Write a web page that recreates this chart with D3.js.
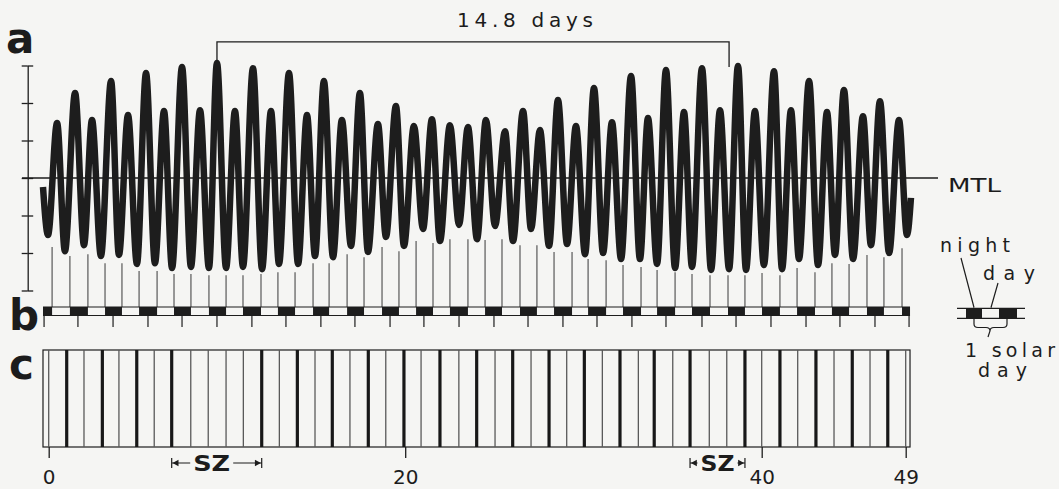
<!DOCTYPE html>
<html><head><meta charset="utf-8">
<script src="https://cdn.jsdelivr.net/npm/d3@7"></script>
<style>
html,body{margin:0;padding:0;background:#f5f5f3;}
svg{display:block;}
text{font-family:"DejaVu Sans","Liberation Sans",Arial,sans-serif;fill:#1c1c1c;}
</style></head><body>
<svg id="chart" width="1059" height="489"></svg>
<script>
// ---------- DATA (x in tidal-cycle units of the bottom axis, y in tide-scale units, MTL = 0) ----------
const xTickValues = [0, 20, 40, 49];
const yTickValues = [-3, -2, -1, 0, 1, 2, 3];

// high waters
const highX = [0.47,1.48,2.43,3.50,4.45,5.46,6.47,7.48,8.49,9.44,10.45,11.46,12.47,13.48,14.49,15.44,16.45,17.46,18.47,19.48,20.49,21.50,22.51,23.52,24.53,25.60,26.61,27.56,28.57,29.58,30.59,31.60,32.67,33.62,34.63,35.64,36.65,37.66,38.67,39.62,40.77,41.83,42.96,44.08,45.14,46.33,47.39,48.58];
const highY = [1.47,2.27,1.55,2.59,1.68,2.80,1.79,2.96,1.81,3.07,1.79,2.93,1.79,2.80,1.68,2.59,1.55,2.27,1.44,1.92,1.39,1.57,1.41,1.36,1.55,1.25,1.79,1.28,2.08,1.39,2.40,1.49,2.72,1.60,2.88,1.76,2.93,1.81,2.99,1.79,2.85,1.81,2.59,1.76,2.35,1.65,2.05,1.55];
// low waters
const lowX = [-0.04,0.91,1.98,2.93,3.94,4.95,5.96,6.92,7.98,8.99,9.95,10.90,11.97,12.92,13.99,14.94,15.95,16.96,17.91,18.92,19.93,21.00,21.95,23.02,24.03,25.04,26.05,27.06,28.07,29.08,30.09,31.10,32.11,33.17,34.13,35.14,36.09,37.16,38.17,39.12,40.14,41.27,42.33,43.52,44.58,45.71,46.83,47.96,49.08];
const lowY = [-1.52,-1.95,-1.79,-2.08,-2.05,-2.29,-2.27,-2.40,-2.37,-2.40,-2.40,-2.37,-2.43,-2.29,-2.29,-2.08,-2.11,-1.81,-1.97,-1.57,-1.81,-1.36,-1.68,-1.25,-1.63,-1.28,-1.68,-1.36,-1.81,-1.76,-2.03,-2.00,-2.16,-2.16,-2.29,-2.40,-2.37,-2.45,-2.43,-2.45,-2.32,-2.43,-2.16,-2.32,-2.05,-2.16,-1.79,-2.00,-1.52];
// record start / end
const recordStart = [-0.32, -0.24];
const recordEnd = [49.33, -0.53];

// day/night transition markers (thin lines from below the curve down to strip b)
const markerX = [0.19,1.19,2.20,3.16,4.11,5.07,6.08,7.03,7.98,8.99,9.95,10.90,11.91,12.86,13.82,14.83,15.73,16.74,17.69,18.70,19.65,20.61,21.56,22.51,23.52,24.48,25.43,26.44,27.39,28.35,29.36,30.26,31.27,32.22,33.23,34.13,35.14,36.09,37.10,38.11,39.06,40.02,41.14,42.21,43.33,44.39,45.46,46.58,47.64,48.77];
const markerTop = [-1.84,-2.08,-2.03,-2.27,-2.27,-2.48,-2.48,-2.56,-2.56,-2.59,-2.59,-2.59,-2.56,-2.51,-2.51,-2.27,-2.27,-2.03,-2.11,-1.84,-1.95,-1.68,-1.73,-1.63,-1.63,-1.65,-1.63,-1.79,-1.79,-1.97,-1.97,-2.16,-2.19,-2.32,-2.37,-2.45,-2.51,-2.56,-2.59,-2.59,-2.59,-2.53,-2.59,-2.40,-2.51,-2.27,-2.29,-2.05,-2.11,-1.87];

// panel b: nights
const nightStart = [-0.32,1.19,3.16,5.07,7.03,8.99,10.90,12.86,14.83,16.74,18.70,20.61,22.51,24.48,26.44,28.35,30.26,32.22,34.13,36.09,38.11,40.02,42.21,44.39,46.58,48.77];
const nightEnd = [0.19,2.20,4.11,6.08,7.98,9.95,11.91,13.82,15.73,17.69,19.65,21.56,23.52,25.43,27.39,29.36,31.27,33.23,35.14,37.10,39.06,41.14,43.33,45.46,47.64,49.27];
const midnight = [-0.26,1.64,3.61,5.57,7.48,9.44,11.40,13.31,15.27,17.18,19.15,21.05,23.02,24.98,26.89,28.85,30.76,32.72,34.63,36.65,38.56,40.58,42.77,44.89,47.08,49.21];
const panelExtent = [-0.32, 49.27];

// panel c: activity lines (1 = heavy, 0 = light)
const cX = [0.00,1.01,1.98,3.01,3.94,4.94,5.92,6.90,7.97,8.95,9.95,10.92,11.95,12.94,13.95,14.94,15.91,16.90,17.93,18.91,19.93,20.89,21.95,23.01,24.01,25.04,26.03,27.06,28.07,29.06,30.05,31.06,32.05,33.08,33.97,35.01,35.98,37.06,38.04,39.06,40.00,41.14,42.25,43.39,44.52,45.66,46.77,47.88,49.00];
const cThick = [0,1,0,1,0,1,0,1,0,0,0,0,1,0,1,0,1,0,1,0,1,0,1,0,1,0,1,0,1,0,1,0,1,0,1,0,1,0,0,1,0,1,0,1,0,1,0,1,0];

// SZ intervals
const szStart = [6.90, 35.98];
const szEnd = [11.95, 39.06];

// 14.8 days bracket
const bracketX = [9.44, 38.17];
const bracketLeg = [3.15, 2.96];
const bracketTop = 3.63;
const mtlExtent = [-1.50, 51.02];

// ---------- DRAWING ----------
const ink = "#1d1d1d";
const svg = d3.select("#chart");
svg.append("rect").attr("width", 1059).attr("height", 489).attr("fill", "#f5f5f3");

const x = d3.scaleLinear().domain([0, 40, 49]).range([48.7, 761.7, 905.7]);
const y = d3.scaleLinear().domain([-3, 3]).range([290.5, 65.5]);

const stripTop = 307, stripBot = 315.5;
const cTop = 350, cBot = 447;

// y axis (ticks on both sides)
const yl = svg.append("g").attr("transform", "translate(27.7,0)")
  .call(d3.axisLeft(y).tickValues(yTickValues).tickSize(6).tickSizeOuter(0).tickFormat(""));
const yr = svg.append("g").attr("transform", "translate(27.7,0)")
  .call(d3.axisRight(y).tickValues(yTickValues).tickSize(5.5).tickSizeOuter(0).tickFormat(""));
yr.select(".domain").remove();
svg.selectAll("g line, g path").attr("stroke", ink).attr("stroke-width", 1.3);

// MTL
svg.append("line").attr("x1", x(mtlExtent[0])).attr("x2", x(mtlExtent[1]))
  .attr("y1", y(0)).attr("y2", y(0)).attr("stroke", ink).attr("stroke-width", 1.5);

// marker lines
svg.append("g").selectAll("line").data(markerX).join("line")
  .attr("x1", d => x(d)).attr("x2", d => x(d))
  .attr("y1", (d, i) => y(markerTop[i])).attr("y2", stripTop)
  .attr("stroke", "#4a4a4a").attr("stroke-width", 1.1);

// tide curve
const tide = [{t: recordStart[0], h: recordStart[1]}];
lowX.forEach((t, i) => tide.push({t, h: lowY[i]}));
highX.forEach((t, i) => tide.push({t, h: highY[i]}));
tide.push({t: recordEnd[0], h: recordEnd[1]});
tide.sort((a, b) => a.t - b.t);
svg.append("path").datum(tide)
  .attr("d", d3.line().x(d => x(d.t)).y(d => y(d.h)).curve(d3.curveMonotoneX))
  .attr("fill", "none").attr("stroke", ink).attr("stroke-width", 6.5).attr("stroke-linejoin", "round");

// bracket 14.8 days
svg.append("path")
  .attr("d", `M${x(bracketX[0])},${y(bracketLeg[0])}V${y(bracketTop)}H${x(bracketX[1])}V${y(bracketLeg[1])}`)
  .attr("fill", "none").attr("stroke", ink).attr("stroke-width", 1.3);
svg.append("text").attr("x", 457).attr("y", 27).attr("font-size", 20)
  .attr("textLength", 136).attr("lengthAdjust", "spacing").text("14.8 days");

svg.append("text").attr("x", 948).attr("y", 192).attr("font-size", 19.5)
  .attr("textLength", 53).attr("lengthAdjust", "spacingAndGlyphs").text("MTL");

// panel b strip
svg.append("g").selectAll("line").data([stripTop, stripBot]).join("line")
  .attr("x1", x(panelExtent[0])).attr("x2", x(panelExtent[1]))
  .attr("y1", d => d).attr("y2", d => d).attr("stroke", ink).attr("stroke-width", 1.2);
svg.append("g").selectAll("rect").data(nightStart).join("rect")
  .attr("x", d => x(d)).attr("width", (d, i) => x(nightEnd[i]) - x(d))
  .attr("y", stripTop).attr("height", stripBot - stripTop).attr("fill", ink);
svg.append("g").selectAll("line").data(midnight).join("line")
  .attr("x1", d => x(d)).attr("x2", d => x(d)).attr("y1", stripBot).attr("y2", stripBot + 11.5)
  .attr("stroke", ink).attr("stroke-width", 1.2);

// panel c
svg.append("rect").attr("x", x(panelExtent[0])).attr("y", cTop)
  .attr("width", x(panelExtent[1]) - x(panelExtent[0])).attr("height", cBot - cTop)
  .attr("fill", "none").attr("stroke", ink).attr("stroke-width", 1.2);
svg.append("g").selectAll("line").data(cX).join("line")
  .attr("x1", d => x(d)).attr("x2", d => x(d)).attr("y1", cTop).attr("y2", cBot)
  .attr("stroke", (d, i) => cThick[i] ? "#181818" : "#595959")
  .attr("stroke-width", (d, i) => cThick[i] ? 3.2 : 1.3);

// bottom axis
const xa = svg.append("g").attr("transform", `translate(0,${cBot})`)
  .call(d3.axisBottom(x).tickValues(xTickValues).tickSize(11).tickSizeOuter(0).tickPadding(12).tickFormat(d3.format("d")));
xa.select(".domain").remove();
xa.selectAll("line").attr("stroke", ink).attr("stroke-width", 1.3);
xa.selectAll("text").attr("font-size", 20).attr("font-family", "DejaVu Sans, sans-serif").attr("fill", "#1c1c1c");

// SZ annotations
szStart.forEach((s, i) => {
  const x0 = x(s), x1 = x(szEnd[i]), yc = 463;
  const g = svg.append("g");
  const t = g.append("text").attr("x", (x0 + x1) / 2 - (i === 0 ? 5 : 0)).attr("y", 471)
    .attr("text-anchor", "middle").attr("font-size", 21).attr("font-weight", "bold")
    .attr("textLength", i === 0 ? 37 : 34).attr("lengthAdjust", "spacingAndGlyphs").text("SZ");
  const bb = t.node().getBBox();
  g.append("path").attr("d", `M${x0},${yc - 5}V${yc + 5}M${x1},${yc - 5}V${yc + 5}M${x0},${yc}H${bb.x - 3}M${bb.x + bb.width + 3},${yc}H${x1}`)
    .attr("stroke", ink).attr("stroke-width", 1.2).attr("fill", "none");
  g.append("path").attr("d", `M${x0 + 0.8},${yc}l6,-3.2v6.4zM${x1 - 0.8},${yc}l-6,-3.2v6.4z`).attr("fill", ink);
});

// panel letters
[["a", 6, 53], ["b", 9, 330], ["c", 9, 378.5]].forEach(([s, px, py]) =>
  svg.append("text").attr("x", px).attr("y", py).attr("font-size", 42).attr("font-weight", "bold")
    .attr("font-family", "Liberation Sans, Arial, sans-serif").text(s));

// legend (night / day / 1 solar day)
const lg = svg.append("g");
lg.append("text").attr("x", 940).attr("y", 252).attr("font-size", 19).attr("textLength", 70).attr("lengthAdjust", "spacing").text("night");
lg.append("text").attr("x", 983).attr("y", 280).attr("font-size", 19).attr("textLength", 52).attr("lengthAdjust", "spacing").text("day");
lg.append("path").attr("d", "M961,258L974,307.5M998,283L991,307.5M957,308.3H1025M957,318.3H1025")
  .attr("stroke", ink).attr("stroke-width", 1.2).attr("fill", "none");
lg.append("rect").attr("x", 966).attr("y", 308.3).attr("width", 16).attr("height", 10).attr("fill", ink);
lg.append("rect").attr("x", 999).attr("y", 308.3).attr("width", 18).attr("height", 10).attr("fill", ink);
lg.append("path").attr("d", "M974,319V324Q974,327.5 978,327.5H986Q990,327.5 990,331M1007,319V324Q1007,327.5 1003,327.5H994Q990,327.5 990,331L988,337")
  .attr("stroke", ink).attr("stroke-width", 1.2).attr("fill", "none");
lg.append("text").attr("x", 965).attr("y", 357).attr("font-size", 19).attr("textLength", 90).attr("lengthAdjust", "spacing").text("1 solar");
lg.append("text").attr("x", 978).attr("y", 377).attr("font-size", 19).attr("textLength", 49).attr("lengthAdjust", "spacing").text("day");
</script></body></html>
